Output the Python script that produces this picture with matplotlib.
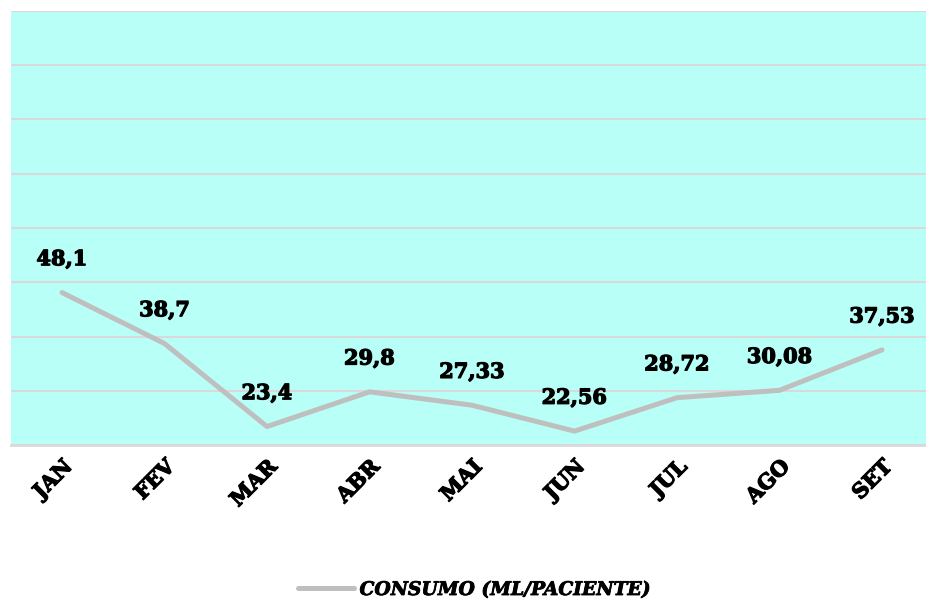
import matplotlib.pyplot as plt
import matplotlib.patheffects as pe
from matplotlib.lines import Line2D

# Dados
meses = ["JAN", "FEV", "MAR", "ABR", "MAI", "JUN", "JUL", "AGO", "SET"]
consumo = [48.1, 38.7, 23.4, 29.8, 27.33, 22.56, 28.72, 30.08, 37.53]
rotulos = ["48,1", "38,7", "23,4", "29,8", "27,33", "22,56", "28,72", "30,08", "37,53"]

grosso = [pe.withStroke(linewidth=0.9, foreground="black")]

fig = plt.figure(figsize=(9.26, 6.02), dpi=100)
ax = fig.add_axes([10.75 / 926, (602 - 445) / 602, 922.5 / 926, 434 / 602])
ax.set_facecolor("#B8FFF8")

x = range(len(meses))
ax.plot(x, consumo, color="#BFBFBF", linewidth=3.6, solid_capstyle="round", zorder=3)

# Rótulos de dados
for i, (v, r) in enumerate(zip(consumo, rotulos)):
    ax.annotate(r, (i, v), xytext=(0, 24), textcoords="offset points",
                ha="center", va="center", fontsize=15, fontweight="bold",
                family="DejaVu Serif", color="black", path_effects=grosso)

ax.set_xlim(-0.5, len(meses) - 0.5)
ax.set_ylim(20, 100)
ax.set_yticks(range(20, 101, 10))
ax.tick_params(axis="y", left=False, labelleft=False)
ax.tick_params(axis="x", length=0, pad=8)
ax.set_xticks(list(x))
ax.set_xticklabels(meses, rotation=45, ha="right", rotation_mode="anchor",
                   fontsize=15, fontweight="bold", family="DejaVu Serif")
for t in ax.get_xticklabels():
    t.set_path_effects(grosso)
ax.grid(axis="y", color="#D9D9D9", linewidth=1.5, zorder=1)
ax.set_axisbelow(True)
for s in ["top", "left", "right"]:
    ax.spines[s].set_visible(False)
ax.spines["bottom"].set_color("#D9D9D9")
ax.spines["bottom"].set_linewidth(2)

# Legenda
handle = Line2D([], [], color="#BFBFBF", linewidth=3.6, solid_capstyle="round")
leg = fig.legend([handle], ["CONSUMO (ML/PACIENTE)"], loc="center",
                 bbox_to_anchor=(474 / 926, 1 - 590 / 602), frameon=False,
                 handlelength=3.0, handletextpad=0.3,
                 prop={"family": "DejaVu Serif", "weight": "bold",
                       "style": "italic", "size": 13.5})
for t in leg.get_texts():
    t.set_path_effects([pe.withStroke(linewidth=0.6, foreground="black")])

fig.savefig("out.png", dpi=100)
